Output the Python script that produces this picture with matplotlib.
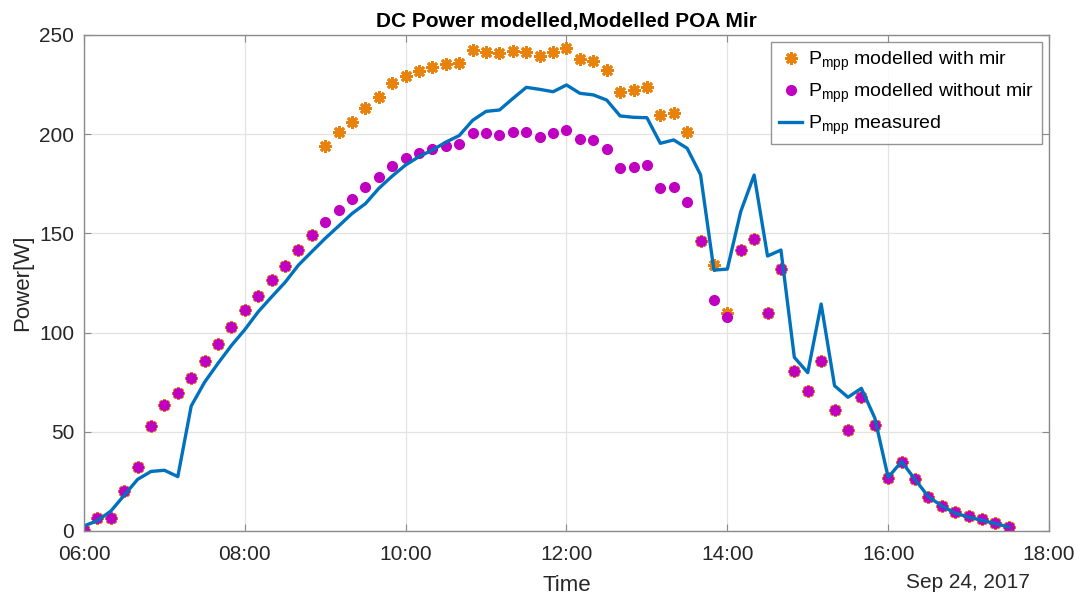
import matplotlib
matplotlib.use('Agg')
import matplotlib.pyplot as plt
import matplotlib.dates as mdates
import numpy as np
import pandas as pd

plt.rcParams['font.family'] = ['Liberation Sans', 'DejaVu Sans']
plt.rcParams['mathtext.fontset'] = 'custom'
plt.rcParams['mathtext.rm'] = 'Liberation Sans'
plt.rcParams['mathtext.it'] = 'Liberation Sans:italic'

# Data: 10-minute samples, 06:00 - 17:30 on Sep 24, 2017
times = pd.date_range('2017-09-24 06:00', '2017-09-24 17:30', freq='10min')

p_without_mir = [0.5, 6.7, 6.4, 20, 32, 53, 63.7, 69.4, 77, 85.8, 94.2, 102.8,
                 111.4, 118.6, 126.5, 133.6, 141.6, 149.2, 155.9, 162, 167.3, 173.2,
                 178.4, 184.1, 187.8, 190.7, 192.4, 194, 195.3, 200.4, 200.4, 199.8,
                 200.9, 200.9, 198.8, 200.4, 202.1, 197.6, 197.1, 192.5, 183.1, 183.7,
                 184.5, 172.8, 173.5, 166, 146.3, 116.4, 108, 141.6, 147, 109.7,
                 132, 80.8, 70.5, 85.7, 61, 50.9, 67.4, 53.2, 26.5, 34.6,
                 26, 17, 12.6, 9.7, 7.7, 5.9, 3.9, 2.2]

p_with_mir = [0.5, 6.7, 6.4, 20, 32, 53, 63.7, 69.4, 77, 85.8, 94.2, 102.8,
              111.4, 118.6, 126.5, 133.6, 141.6, 149.2, 194.2, 200.9, 206.3, 213,
              218.9, 225.6, 229.5, 232, 234, 235.2, 236, 242.4, 241.6, 240.8,
              241.9, 241.6, 239.6, 241.6, 243.3, 237.9, 237, 232.4, 221.1, 222.3,
              223.6, 209.7, 210.8, 200.9, 146.3, 134, 109.7, 141.6, 147, 109.7,
              132, 80.8, 70.5, 85.7, 61, 50.9, 67.4, 53.2, 26.5, 34.6,
              26, 17, 12.6, 9.7, 7.7, 5.9, 3.9, 2.2]

p_measured = [2.5, 5.2, 10, 18, 26, 30, 30.6, 27.4, 63, 75, 84.5, 93.5,
              101.5, 110.5, 118, 125.3, 134, 140.8, 147.5, 153.7, 160, 165,
              172.7, 178.9, 184.5, 188.7, 192, 196, 199.3, 207, 211.5, 212.2,
              218, 223.6, 222.6, 221.4, 224.8, 220.6, 219.8, 217.2, 209.2, 208.5,
              208.3, 195.4, 197.1, 192.9, 179.6, 131.5, 132, 161, 179.4, 138.6,
              141.6, 87.5, 79.8, 114.4, 73.2, 67.4, 71.9, 57, 27, 35,
              26, 17.3, 12.6, 9, 7, 5.4, 3.7, 2]

fig = plt.figure(figsize=(10.81, 5.97), dpi=100)
ax = fig.add_axes([0.0777, 0.1106, 0.8927, 0.8308])

ax.plot(times, p_with_mir, linestyle='none', marker=(8, 2, 0), markersize=9,
        markeredgewidth=2.0, color='#E8820C', label=r'P$_{\rm mpp}$ modelled with mir')
ax.plot(times, p_without_mir, linestyle='none', marker='o', markersize=7,
        color='#C000C0', label=r'P$_{\rm mpp}$ modelled without mir')
ax.plot(times, p_measured, color='#0072BD', lw=2.4, label=r'P$_{\rm mpp}$ measured')

# axes
ax.set_xlim(pd.Timestamp('2017-09-24 06:00'), pd.Timestamp('2017-09-24 18:00'))
ax.set_ylim(0, 250)
ax.xaxis.set_major_locator(mdates.HourLocator(byhour=range(6, 19, 2)))
ax.xaxis.set_major_formatter(mdates.DateFormatter('%H:%M'))
ax.set_yticks(np.arange(0, 251, 50))

ax.grid(True, color='#e3e3e3', linewidth=0.9)
ax.set_axisbelow(True)
for s in ax.spines.values():
    s.set_color('#8a8a8a')
    s.set_linewidth(1.0)
ax.tick_params(direction='in', length=5, color='#8a8a8a', labelsize=15,
               labelcolor='#262626', top=True, right=True)
ax.tick_params(axis='x', pad=10)
ax.tick_params(axis='y', pad=7)

ax.set_title('DC Power modelled,Modelled POA Mir', fontsize=15, fontweight='bold', pad=6)
ax.set_xlabel('Time', fontsize=16, color='#262626', labelpad=8)
ax.set_ylabel('Power[W]', fontsize=16, color='#262626', labelpad=4)
fig.text(968 / 1081, 1 - 582 / 597, 'Sep 24, 2017', fontsize=15, color='#262626',
         ha='center', va='center')

leg = ax.legend(loc='upper right', fontsize=14, frameon=True, fancybox=False,
                borderaxespad=0.35, handlelength=1.2, handletextpad=0.3,
                labelspacing=0.45, borderpad=0.4)
leg.get_frame().set_edgecolor('#7a7a7a')
leg.get_frame().set_linewidth(1.0)

plt.savefig('out.png', dpi=100)
